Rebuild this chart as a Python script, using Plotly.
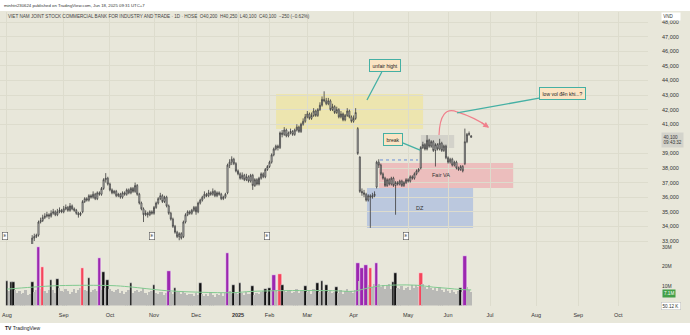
import plotly.graph_objects as go

# ---------------- data (prices in thousand VND, volumes in millions) ----------------
opens = [
    32.3, 32.0, 31.8, 31.9, 31.2, 30.9, 31.3, 31.5, 31.6, 31.9, 32.1, 32.3,
    32.7, 33.2, 33.3, 33.4, 34.3, 34.4, 34.6, 34.7, 34.8, 34.7, 34.9, 35.0,
    34.8, 35.0, 35.1, 35.0, 35.2, 35.3, 35.1, 35.4, 35.2, 35.1, 34.9, 34.8,
    35.0, 35.7, 35.9, 35.8, 36.1, 36.0, 36.2, 35.9, 36.3, 36.2, 36.6, 37.2,
    37.3, 36.9, 36.5, 36.3, 36.4, 36.1, 36.2, 36.0, 36.3, 36.2, 36.5, 36.3,
    36.6, 36.4, 36.8, 36.2, 35.6, 35.2, 34.8, 34.9, 34.8, 35.0, 34.9, 35.3,
    35.6, 35.9, 36.1, 35.7, 36.0, 35.4, 34.9, 34.5, 34.0, 33.6, 33.3, 33.5,
    33.3, 34.3, 34.8, 35.0, 34.9, 35.1, 35.3, 35.0, 35.6, 35.8, 36.0, 36.2,
    36.1, 36.3, 36.2, 36.4, 36.1, 36.3, 36.2, 35.9, 36.0, 36.3, 38.2, 38.4,
    38.6, 38.3, 37.8, 37.6, 37.3, 37.5, 37.2, 37.4, 37.1, 37.5, 36.8, 37.2,
    36.9, 37.3, 37.6, 37.4, 37.9, 38.1, 38.4, 38.9, 39.3, 39.5, 39.4, 40.4,
    40.3, 40.6, 40.2, 40.4, 40.5, 40.3, 40.6, 40.8, 40.5, 41.0, 41.2, 41.5,
    41.7, 41.4, 41.6, 41.9, 41.6, 42.0, 42.3, 42.7, 42.6, 42.4, 42.6, 42.0,
    42.2, 41.8, 42.0, 41.5, 41.7, 41.3, 41.6, 41.9, 41.5, 41.2, 41.4, 40.7,
    38.75, 36.4, 36.3, 36.2, 35.8, 36.1, 36.0, 36.1, 36.7, 38.4, 38.2, 37.6,
    37.3, 36.8, 37.2, 36.9, 37.3, 36.8, 37.0, 36.9, 37.1, 36.8, 37.0, 37.2,
    37.1, 37.4, 37.3, 37.6, 37.8, 38.0, 39.4, 39.6, 39.3, 39.9, 39.5, 39.8,
    39.2, 39.6, 39.3, 39.7, 39.2, 39.5, 38.7, 38.4, 38.6, 38.2, 38.4, 38.0,
    37.9, 38.1, 38.3, 39.8, 40.3, 40.2,
]
highs = [
    32.5, 32.2, 32.1, 32.0, 31.4, 31.5, 31.7, 31.8, 32.0, 32.2, 32.4, 32.6,
    33.4, 33.5, 33.5, 34.4, 34.6, 34.8, 34.9, 35.0, 34.9, 35.1, 35.2, 35.1,
    35.2, 35.3, 35.2, 35.4, 35.5, 35.4, 35.6, 35.5, 35.3, 35.2, 35.0, 35.0,
    35.8, 36.0, 36.0, 36.2, 36.2, 36.4, 36.3, 36.4, 36.4, 36.7, 37.3, 37.65,
    37.4, 37.0, 36.6, 36.5, 36.5, 36.3, 36.3, 36.4, 36.4, 36.6, 36.6, 36.7,
    36.7, 37.0, 36.9, 36.3, 35.7, 35.3, 35.1, 35.0, 35.1, 35.1, 35.4, 35.7,
    36.0, 36.3, 36.2, 36.1, 36.1, 35.5, 35.0, 34.6, 34.1, 33.7, 33.6, 33.6,
    34.4, 34.9, 35.1, 35.1, 35.2, 35.4, 35.4, 35.7, 35.9, 36.1, 36.4, 36.3,
    36.5, 36.4, 36.6, 36.5, 36.4, 36.4, 36.3, 36.1, 36.3, 38.3, 38.6, 38.8,
    38.7, 38.4, 37.9, 37.7, 37.7, 37.6, 37.6, 37.5, 37.6, 37.6, 37.3, 37.3,
    37.4, 37.7, 37.7, 38.0, 38.2, 38.5, 39.0, 39.4, 39.6, 39.6, 40.5, 40.6,
    40.8, 40.7, 40.5, 40.7, 40.6, 40.7, 41.0, 40.9, 41.1, 41.4, 41.7, 41.9,
    41.8, 41.8, 42.1, 42.0, 42.1, 42.5, 42.9, 43.25, 42.8, 42.8, 42.7, 42.4,
    42.3, 42.2, 42.1, 41.9, 41.8, 41.7, 42.1, 42.0, 41.6, 41.6, 42.1, 40.8,
    38.8, 36.6, 36.5, 36.3, 36.2, 36.2, 36.3, 36.4, 38.5, 38.6, 38.3, 37.7,
    37.4, 37.3, 37.3, 37.4, 37.4, 37.1, 37.1, 37.2, 37.2, 37.1, 37.3, 37.3,
    37.5, 37.5, 37.7, 37.9, 38.0, 39.5, 39.8, 39.7, 40.25, 40.0, 39.9, 39.9,
    39.7, 39.7, 40.0, 39.8, 39.6, 39.6, 38.8, 38.7, 38.7, 38.5, 38.5, 38.1,
    38.2, 38.2, 40.7, 40.4, 40.5, 40.25,
]
lows = [
    31.8, 31.6, 31.6, 31.0, 30.6, 30.8, 31.2, 31.4, 31.5, 31.8, 32.0, 32.2,
    32.6, 33.0, 33.2, 33.3, 34.2, 34.3, 34.5, 34.6, 34.5, 34.6, 34.8, 34.7,
    34.7, 34.9, 34.9, 34.9, 35.1, 35.0, 35.0, 35.1, 35.0, 34.8, 34.6, 34.7,
    34.9, 35.6, 35.7, 35.7, 35.9, 35.9, 35.8, 35.8, 36.1, 36.1, 36.5, 37.0,
    36.8, 36.4, 36.2, 36.2, 36.0, 36.0, 35.9, 35.9, 36.1, 36.1, 36.2, 36.2,
    36.3, 36.3, 36.1, 35.5, 35.1, 34.3, 34.7, 34.6, 34.7, 34.8, 34.8, 35.2,
    35.5, 35.8, 35.6, 35.6, 35.3, 34.8, 34.4, 33.9, 33.5, 33.2, 33.05, 33.1,
    33.2, 34.2, 34.7, 34.8, 34.8, 35.0, 34.8, 34.9, 35.5, 35.7, 35.9, 36.0,
    36.0, 36.1, 36.1, 36.0, 36.0, 36.1, 35.8, 35.8, 35.9, 36.2, 38.0, 38.2,
    38.2, 37.7, 37.5, 37.2, 37.2, 37.1, 37.1, 37.0, 37.0, 36.5, 36.7, 36.8,
    36.8, 37.2, 37.3, 37.3, 37.8, 38.0, 38.3, 38.8, 39.2, 39.2, 39.3, 40.1,
    40.2, 40.1, 40.1, 40.3, 40.2, 40.2, 40.5, 40.4, 40.4, 40.9, 41.1, 41.4,
    41.3, 41.3, 41.5, 41.5, 41.5, 41.9, 42.2, 42.5, 42.3, 42.3, 41.9, 41.9,
    41.7, 41.7, 41.4, 41.4, 41.2, 41.2, 41.5, 41.4, 41.1, 41.1, 41.3, 38.9,
    36.3, 36.1, 36.0, 35.7, 35.7, 33.9, 35.9, 36.0, 36.6, 38.0, 37.5, 37.2,
    36.7, 36.7, 36.8, 36.8, 36.7, 34.8, 36.8, 36.8, 36.7, 36.7, 36.9, 37.0,
    37.0, 37.2, 37.2, 37.5, 37.7, 37.9, 39.3, 39.2, 39.2, 39.4, 39.4, 39.1,
    38.1, 39.2, 39.2, 39.1, 39.1, 38.6, 38.3, 38.3, 38.1, 38.1, 37.9, 37.8,
    37.8, 37.7, 38.2, 39.7, 40.2, 40.1,
]
closes = [
    32.0, 31.8, 31.9, 31.2, 30.9, 31.3, 31.5, 31.6, 31.9, 32.1, 32.3, 32.6,
    33.2, 33.3, 33.4, 34.3, 34.4, 34.6, 34.7, 34.8, 34.7, 34.9, 35.0, 34.8,
    35.0, 35.1, 35.0, 35.2, 35.3, 35.1, 35.4, 35.2, 35.1, 34.9, 34.8, 34.9,
    35.7, 35.9, 35.8, 36.1, 36.0, 36.2, 35.9, 36.3, 36.2, 36.6, 37.2, 37.3,
    36.9, 36.5, 36.3, 36.4, 36.1, 36.2, 36.0, 36.3, 36.2, 36.5, 36.3, 36.6,
    36.4, 36.8, 36.2, 35.6, 35.2, 34.8, 34.9, 34.8, 35.0, 34.9, 35.3, 35.6,
    35.9, 36.1, 35.7, 36.0, 35.4, 34.9, 34.5, 34.0, 33.6, 33.3, 33.5, 33.2,
    34.3, 34.8, 35.0, 34.9, 35.1, 35.3, 35.0, 35.6, 35.8, 36.0, 36.2, 36.1,
    36.3, 36.2, 36.4, 36.1, 36.3, 36.2, 35.9, 36.0, 36.2, 38.2, 38.4, 38.6,
    38.3, 37.8, 37.6, 37.3, 37.5, 37.2, 37.4, 37.1, 37.5, 36.8, 37.2, 36.9,
    37.3, 37.6, 37.4, 37.9, 38.1, 38.4, 38.9, 39.3, 39.5, 39.4, 40.4, 40.3,
    40.6, 40.2, 40.4, 40.5, 40.3, 40.6, 40.8, 40.5, 41.0, 41.2, 41.5, 41.7,
    41.4, 41.6, 41.9, 41.6, 42.0, 42.3, 42.7, 42.6, 42.4, 42.6, 42.0, 42.2,
    41.8, 42.0, 41.5, 41.7, 41.3, 41.6, 41.9, 41.5, 41.2, 41.4, 41.8, 39.0,
    36.4, 36.3, 36.2, 35.8, 36.1, 36.0, 36.1, 36.2, 38.4, 38.2, 37.6, 37.3,
    36.8, 37.2, 36.9, 37.3, 36.8, 37.0, 36.9, 37.1, 36.8, 37.0, 37.2, 37.1,
    37.4, 37.3, 37.6, 37.8, 37.9, 39.4, 39.6, 39.3, 39.9, 39.5, 39.8, 39.2,
    39.6, 39.3, 39.7, 39.2, 39.5, 38.7, 38.4, 38.6, 38.2, 38.4, 38.0, 37.9,
    38.1, 37.8, 39.8, 40.3, 40.35, 40.1,
]
volumes = [
    12.8, 7.5, 11.9, 11.9, 8.0, 6.5, 7.2, 5.8, 6.6, 7.9, 5.4, 6.1,
    11.9, 7.0, 8.2, 30.0, 8.5, 20.0, 7.4, 6.2, 8.1, 13.2, 7.7, 6.4,
    13.7, 8.8, 7.3, 6.9, 8.4, 7.6, 5.9, 7.1, 8.6, 6.3, 7.8, 8.9,
    19.0, 8.2, 7.5, 14.2, 6.8, 7.9, 8.7, 7.2, 24.2, 8.0, 17.4, 9.1,
    13.3, 8.4, 7.6, 6.9, 7.8, 8.5, 6.6, 7.3, 5.8, 6.9, 7.7, 11.7,
    6.4, 7.2, 8.1, 6.8, 7.5, 8.8, 6.2, 5.6, 6.9, 7.4, 10.5, 6.3,
    5.8, 6.7, 7.1, 5.5, 6.4, 17.9, 7.0, 6.1, 8.9, 7.6, 6.8, 5.9,
    7.3, 6.5, 5.2, 6.0, 5.7, 4.9, 6.3, 5.4, 11.7, 6.0, 5.1, 5.8,
    4.8, 6.2, 5.5, 4.6, 5.9, 5.2, 6.4, 5.0, 6.6, 26.8, 7.2, 6.1,
    10.7, 6.5, 5.8, 11.4, 6.2, 5.4, 6.8, 5.7, 6.0, 10.2, 5.3, 6.4,
    5.8, 6.9, 7.4, 8.4, 6.6, 8.9, 7.7, 15.8, 8.0, 7.1, 16.1, 10.5,
    7.8, 6.9, 7.5, 8.2, 6.4, 7.0, 8.6, 6.3, 7.2, 8.0, 10.2, 6.8,
    7.6, 6.1, 8.3, 7.4, 11.6, 6.9, 12.8, 7.3, 10.5, 6.7, 7.9, 6.2,
    7.0, 9.3, 6.5, 7.7, 6.0, 7.2, 8.4, 6.8, 7.5, 6.3, 8.1, 21.6,
    12.5, 19.0, 9.8, 20.7, 10.4, 19.0, 9.6, 11.2, 21.6, 10.8, 9.4, 10.6,
    8.7, 9.9, 10.9, 8.6, 12.3, 16.5, 9.2, 8.4, 10.1, 7.8, 8.9, 9.6,
    8.2, 10.3, 9.0, 10.7, 9.5, 16.8, 10.9, 9.7, 8.3, 10.4, 9.1, 7.9,
    8.8, 7.6, 9.4, 8.1, 6.9, 8.5, 7.3, 6.6, 8.0, 7.0, 5.9, 7.4,
    8.9, 6.8, 25.4, 9.6, 8.2, 7.1,
]
purple_bars = [15, 44, 77, 105, 127, 167, 169, 171, 176, 218]
red_bars = [17, 36, 130, 173, 197]
black_bars = [0, 2, 3, 12, 21, 24, 39, 46, 48, 59, 70, 80, 92, 108, 111, 117,
              123, 125, 131, 142, 148, 150, 152, 157, 184, 185, 216]
vol_ma_bars = [0, 12, 25, 50, 58, 76, 92, 108, 116, 130, 155, 165, 170, 176, 185, 195, 203, 210, 216, 221]
vol_ma = [8.4, 9.4, 10.2, 10.2, 9.6, 7.6, 6.8, 6.6, 7.2, 7.6, 7.6, 7.3, 8.5, 9.8, 10.5, 10.4, 9.4, 8.8, 8.2, 8.0]
month_pos = [0, 27, 49, 70, 90, 110, 125, 143, 165, 191, 210, 230, 252, 272, 291]
month_labels = ["Aug", "Sep", "Oct", "Nov", "Dec", "<b>2025</b>", "Feb", "Mar", "Apr",
                "May", "Jun", "Jul", "Aug", "Sep", "Oct"]
price_ticks = [33, 34, 35, 36, 37, 38, 39, 41, 42, 43, 44, 45, 46, 47, 48]
vol_ticks = [10, 20, 30]
earnings_bars = [-1, 69, 124, 190]

# ---------------- layout geometry ----------------
W, H = 690, 335
ML, MR, MT, MB = 0, 42, 12, 25
PW, PH = W - ML - MR, H - MT - MB
BG = "#e8e7da"
GRID = "#dddccd"
TEAL = "#45b0a4"
PEACH = "#fbe4c4"
SALMON = "#f0808c"
FONT = "Liberation Sans, Arial, sans-serif"


def pxx(px):
    return (px - ML) / PW


def pxy(py):
    return (H - MB - py) / PH


idx = list(range(len(closes)))

vol_colors, vol_widths, vol_lines = [], [], []
for i in idx:
    if i in purple_bars:
        vol_colors.append("#9c27b0"); vol_widths.append(1.7); vol_lines.append(0.5)
    elif i in red_bars:
        vol_colors.append("#f5455b"); vol_widths.append(1.7); vol_lines.append(0.5)
    elif i in black_bars:
        vol_colors.append("#111111"); vol_widths.append(1.3); vol_lines.append(0.4)
    else:
        vol_colors.append("#b9b9b6"); vol_widths.append(0.9); vol_lines.append(0)

fig = go.Figure()
fig.add_trace(go.Candlestick(
    x=idx, open=opens, high=highs, low=lows, close=closes, xaxis="x", yaxis="y",
    increasing=dict(line=dict(color="#3c3c3c", width=0.8), fillcolor="#ffffff"),
    decreasing=dict(line=dict(color="#3c3c3c", width=0.8), fillcolor="#ffffff"),
    whiskerwidth=0, hoverinfo="skip", showlegend=False))
fig.add_trace(go.Bar(
    x=idx, y=volumes, xaxis="x", yaxis="y2", width=vol_widths,
    marker=dict(color=vol_colors, line=dict(width=vol_lines, color="white")),
    hoverinfo="skip", showlegend=False))
fig.add_trace(go.Scatter(
    x=vol_ma_bars, y=vol_ma, xaxis="x", yaxis="y2", mode="lines",
    line=dict(color="#80c98f", width=1, shape="spline"), hoverinfo="skip", showlegend=False))

# price pane: py 12..244, 48,000 at py 22, 14.6 px per 1,000
p_top = 48 + 10 / 14.6
p_bot = 48 - (244 - 22) / 14.6
v_top = (305.5 - 244) / 19.5 * 10

fig.update_layout(
    width=W, height=H, margin=dict(l=ML, r=MR, t=MT, b=MB),
    paper_bgcolor="white", plot_bgcolor=BG, showlegend=False, bargap=0,
    font=dict(family=FONT, size=5, color="#333333"),
    xaxis=dict(domain=[0, 1], range=[-3.33, 305.2], tickvals=month_pos, ticktext=month_labels,
               showgrid=True, gridcolor=GRID, gridwidth=1, zeroline=False, showline=False,
               ticks="", anchor="free", position=0, rangeslider=dict(visible=False),
               tickfont=dict(size=5.5, color="#333333")),
    yaxis=dict(domain=[pxy(244), 1], range=[p_bot, p_top], side="right", anchor="x",
               tickvals=price_ticks, ticktext=[f"{int(v * 1000):,}" for v in price_ticks],
               showgrid=True, gridcolor=GRID, gridwidth=1, zeroline=False, showline=False,
               ticks="", ticklabelstandoff=13, tickfont=dict(size=5.5, color="#333333")),
    yaxis2=dict(domain=[pxy(305.5), pxy(244)], range=[0, v_top], side="right", anchor="x",
                tickvals=vol_ticks, ticktext=[f"{v}M" for v in vol_ticks],
                showgrid=False, zeroline=False, showline=False, ticks="",
                ticklabelstandoff=13, tickfont=dict(size=5, color="#333333")),
)

shapes = [
    # beige chart panel
    dict(type="rect", xref="paper", yref="paper", x0=-0.01, x1=W / PW + 0.01,
         y0=pxy(323), y1=pxy(11), fillcolor=BG, line=dict(width=0), layer="below"),
    # zones
    dict(type="rect", xref="x", yref="y", x0=128.1, x1=198.1, y0=40.67, y1=43.07,
         fillcolor="rgba(240,228,140,0.55)", line=dict(width=0), layer="below"),
    dict(type="rect", xref="x", yref="y", x0=171.4, x1=221.9, y0=33.89, y1=36.63,
         fillcolor="rgba(150,175,225,0.55)", line=dict(width=0), layer="below"),
    dict(type="rect", xref="x", yref="y", x0=177.1, x1=241.0, y0=36.63, y1=38.34,
         fillcolor="rgba(240,150,160,0.5)", line=dict(width=0), layer="below"),
    dict(type="rect", xref="x", yref="y", x0=197.1, x1=212.9, y0=39.37, y1=40.26,
         fillcolor="rgba(190,190,185,0.5)", line=dict(width=0), layer="below"),
    dict(type="line", xref="x", yref="y", x0=177.6, x1=195.7, y0=38.55, y1=38.55,
         line=dict(color="#6b8fd6", width=1, dash="dot")),
    # red curved arrow
    dict(type="path", xref="x", yref="y",
         path="M 205.7,40.26 Q 206.2,42.3 214.3,41.84 Q 222.9,41.45 229.0,40.81",
         line=dict(color=SALMON, width=1.2)),
]
fig.update_layout(shapes=shapes)

ann = []


def txt(px, py, text, size=5, color="#333333", xanchor="left", **kw):
    ann.append(dict(x=pxx(px), y=pxy(py), xref="paper", yref="paper", text=text,
                    showarrow=False, xanchor=xanchor, yanchor="middle",
                    font=dict(size=size, color=color, family=FONT), **kw))


txt(2, 5, "minhtri230624 published on TradingView.com, Jun 18, 2025 09:31 UTC+7", size=4.3)
txt(6, 16.5, "VIET NAM JOINT STOCK COMMERCIAL BANK FOR INDUSTRY AND TRADE · 1D · HOSE  "
    "O40,200  H40,250  L40,100  C40,100  −250 (−0.62%)", size=4.6, color="#444444")
txt(661, 16.5, "VND     ", size=4.5, bgcolor="white", borderpad=1.2)
txt(661, 140, "40,100<br>09:43:32", size=4.6, bgcolor="#d3d3cb", borderpad=1.5, align="left")
txt(662, 293, "7.1M", size=4.6, color="white", bgcolor="#43a047", borderpad=1)
txt(661, 306, "50.12 K", size=4.6, bgcolor="white", bordercolor="#bbbbbb", borderwidth=0.5, borderpad=1)
txt(3, 328, "<b>TV</b> TradingView", size=5, color="#222222")

for b in earnings_bars:
    ann.append(dict(x=b, y=33.35, xref="x", yref="y", text="E", showarrow=False,
                    font=dict(size=4.2, color="#333333", family=FONT), bgcolor="white",
                    bordercolor="#555555", borderwidth=0.6, borderpad=0.8))


def callout(i, p, text, ax, ay):
    ann.append(dict(x=i, y=p, xref="x", yref="y", text=text, showarrow=True, ax=ax, ay=ay,
                    arrowhead=0, arrowwidth=1.3, arrowcolor=TEAL, bgcolor=PEACH,
                    bordercolor=TEAL, borderwidth=1, borderpad=2.5,
                    font=dict(size=5, color="#222222", family=FONT)))


callout(171.4, 42.66, "unfair hight", 18, -34)
callout(196.7, 39.23, "break", -27, -11)
callout(214.3, 41.77, "low vol đến khi...?", 105, -19)

# arrowhead of red curve
ann.append(dict(x=229.6, y=40.76, xref="x", yref="y", text="", showarrow=True, ax=-9, ay=-6,
                arrowhead=2, arrowsize=1, arrowwidth=1.2, arrowcolor=SALMON))
# zone labels
ann.append(dict(x=206.7, y=37.52, xref="x", yref="y", text="Fair VA", showarrow=False,
                font=dict(size=5.5, color="#333333", family=FONT)))
ann.append(dict(x=196.7, y=35.26, xref="x", yref="y", text="DZ", showarrow=False,
                font=dict(size=5.5, color="#333333", family=FONT)))

fig.update_layout(annotations=ann)
fig.write_html("out.html")
